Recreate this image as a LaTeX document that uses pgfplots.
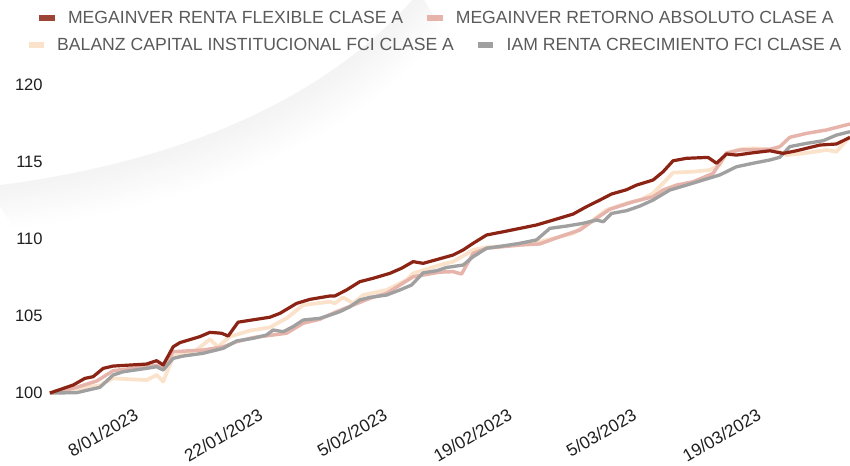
\documentclass[border=0pt]{standalone}
\usepackage{fontspec}
\setmainfont{Liberation Sans}
\usepackage{pgfplots}
\usepackage{pgfplotstable}
\pgfplotsset{compat=1.18}
\definecolor{cRed}{HTML}{8B2414}
\definecolor{cPink}{HTML}{E6B4AA}
\definecolor{cPeach}{HTML}{FBE2CB}
\definecolor{cGray}{HTML}{A0A0A0}
\definecolor{legtext}{HTML}{5A5A5A}

% x = days since 1 Jan 2023 (0 = 1/01/2023)
\pgfplotstableread{
d v
-3.11 100
-0.49 100.52
0.82 100.95
1.75 101.06
2.88 101.6
4.0 101.75
7.75 101.88
8.88 102.1
9.62 101.82
10.74 103.0
11.49 103.27
13.74 103.66
14.87 103.94
16.18 103.88
16.92 103.7
18.04 104.6
19.36 104.72
21.6 104.92
22.73 105.17
24.61 105.82
26.1 106.08
28.35 106.3
28.91 106.3
30.22 106.69
31.72 107.23
33.21 107.45
35.09 107.77
36.4 108.1
37.71 108.53
38.83 108.42
40.34 108.66
42.2 108.96
43.33 109.29
44.45 109.72
45.96 110.26
47.82 110.47
49.7 110.69
51.57 110.91
53.44 111.23
55.69 111.62
57.19 112.1
58.69 112.53
60.0 112.92
61.69 113.2
62.81 113.5
64.67 113.83
65.8 114.37
66.92 115.08
68.43 115.24
70.85 115.3
71.8 114.92
72.92 115.52
74.04 115.45
75.91 115.6
77.79 115.73
79.28 115.56
80.79 115.73
83.4 116.1
85.28 116.17
86.8 116.6
}\tblRed

\pgfplotstableread{
d v
-3.11 100
-0.49 100.3
2.17 100.78
4.0 101.45
7.75 101.71
8.91 101.8
9.62 101.6
10.74 102.68
14.11 102.79
16.36 103.0
17.87 103.33
19.73 103.6
21.98 103.77
23.48 103.88
25.35 104.53
27.22 104.79
29.1 105.28
30.97 105.71
32.84 106.15
34.72 106.47
37.71 107.55
38.83 107.66
40.71 107.85
42.2 107.88
43.15 107.73
44.45 109.07
45.96 109.4
49.7 109.61
51.94 109.68
54.19 110.15
56.43 110.58
58.31 111.34
59.81 111.93
62.43 112.42
64.67 112.75
65.8 113.18
67.3 113.5
69.17 113.72
71.42 114.26
72.92 115.58
74.42 115.78
77.79 115.82
78.92 116.0
80.03 116.6
81.91 116.86
84.16 117.08
86.8 117.47
}\tblPink

\pgfplotstableread{
d v
-3.11 100
2.51 100.5
4.0 100.95
7.75 100.84
8.91 101.17
9.62 100.74
10.74 102.36
13.37 102.79
14.87 103.49
15.76 103.0
17.11 103.66
19.36 104.05
21.6 104.26
23.48 104.85
25.35 105.71
28.35 105.93
28.91 105.82
29.84 106.21
30.97 105.82
32.09 106.36
34.72 106.69
36.97 107.34
37.71 107.77
40.71 108.31
42.2 108.53
44.45 109.29
45.96 109.46
49.7 109.61
51.94 109.82
53.44 110.04
55.69 110.36
57.93 111.23
59.43 111.88
61.69 112.32
63.19 112.53
64.67 112.97
65.8 113.62
66.92 114.31
69.17 114.37
71.04 114.48
72.17 114.81
72.92 115.58
74.42 115.82
75.91 115.89
77.79 115.82
78.92 115.67
79.66 115.45
81.53 115.56
84.16 115.78
85.28 115.67
86.8 116.66
}\tblPeach

\pgfplotstableread{
d v
-3.11 100
-0.11 100.02
2.51 100.37
4.0 101.17
5.12 101.38
7.75 101.6
8.88 101.71
9.62 101.49
10.74 102.25
11.87 102.4
14.11 102.58
16.36 102.9
17.87 103.38
19.73 103.55
21.24 103.77
21.98 104.09
23.1 103.98
24.22 104.31
25.35 104.74
27.22 104.85
28.35 105.06
29.47 105.28
30.6 105.6
31.72 106.04
32.84 106.21
34.72 106.36
36.21 106.69
37.53 107.01
38.83 107.8
40.34 107.94
41.46 108.15
43.33 108.31
44.45 108.85
45.96 109.4
47.82 109.55
49.7 109.72
51.57 109.94
53.07 110.69
54.94 110.84
56.81 111.02
58.31 111.23
59.06 111.12
60.0 111.66
61.69 111.84
63.19 112.14
64.67 112.53
66.55 113.18
68.43 113.5
70.29 113.83
72.17 114.16
74.04 114.69
75.91 114.92
77.79 115.13
78.92 115.31
80.03 116.0
81.91 116.21
83.78 116.38
85.28 116.75
86.8 116.97
}\tblGray

\begin{document}
\begin{tikzpicture}
\path[use as bounding box] (0pt,0pt) rectangle (637.5pt,-348.75pt);
% decorative background swoosh (soft shadow)
\foreach \i in {19,18,...,0} {
  \pgfmathsetmacro\c{4.5*(1-\i/20)}
  \draw[line width=2.4pt, black!\c, shift={(\i*0.9pt,-\i*1.5pt)}]
    (-8pt,-141pt) .. controls (135pt,-123.75pt) and (247.5pt,-75pt) .. (315pt,5pt);
}
\begin{axis}[
  at={(37.5pt,-294.75pt)}, anchor=south west,
  scale only axis, width=600pt, height=242.55pt,
  xmin=-3.1, xmax=86.8, ymin=100, ymax=121,
  clip=false,
  axis line style={draw=none},
  major tick length=0pt,
  xtick={7,21,35,49,63,77},
  xticklabels={8/01/2023,22/01/2023,5/02/2023,19/02/2023,5/03/2023,19/03/2023},
  ytick={100,105,110,115,120},
  /pgf/number format/assume math mode=true,
  ticklabel style={font=\fontsize{12.4}{14}\selectfont, text=black!88},
  xticklabel style={font=\fontsize{13}{14}\selectfont, xshift=0.4pt, yshift=-13.8pt, rotate=30, anchor=east},
  yticklabel style={xshift=-2pt},
]
\addplot[cPeach, line width=2.8pt, line join=round] table[x=d,y=v] {\tblPeach};
\addplot[cPink, line width=2.6pt, line join=round] table[x=d,y=v] {\tblPink};
\addplot[cGray, line width=2.5pt, line join=round] table[x=d,y=v] {\tblGray};
\addplot[cRed, line width=2.4pt, line join=round] table[x=d,y=v] {\tblRed};
\end{axis}

% legend row 1
\begin{axis}[
  at={(327.4pt,-13.5pt)}, anchor=center,
  scale only axis, width=10pt, height=5pt, hide axis,
  xmin=0,xmax=1,ymin=0,ymax=1,
  legend columns=2,
  legend style={at={(0.5,0.5)}, anchor=center, draw=none, fill=none,
    font=\fontsize{13.2}{15}\selectfont, text=legtext,
    /tikz/every even column/.append style={column sep=14pt}},
  legend image code/.code={\draw[#1, line width=4pt] (0pt,0pt) -- (11.5pt,0pt); \path[draw=none,fill=none] (0pt,0pt) -- (19.5pt,0pt);},
]
\addlegendimage{cRed!85!white}
\addlegendentry{MEGAINVER RENTA FLEXIBLE CLASE A}
\addlegendimage{cPink}
\addlegendentry{MEGAINVER RETORNO ABSOLUTO CLASE A}
\end{axis}

% legend row 2
\begin{axis}[
  at={(326.25pt,-33.75pt)}, anchor=center,
  scale only axis, width=10pt, height=5pt, hide axis,
  xmin=0,xmax=1,ymin=0,ymax=1,
  legend columns=2,
  legend style={at={(0.5,0.5)}, anchor=center, draw=none, fill=none,
    font=\fontsize{13.2}{15}\selectfont, text=legtext,
    /tikz/every even column/.append style={column sep=14pt}},
  legend image code/.code={\draw[#1, line width=4pt] (0pt,0pt) -- (11.5pt,0pt); \path[draw=none,fill=none] (0pt,0pt) -- (19.5pt,0pt);},
]
\addlegendimage{cPeach}
\addlegendentry{BALANZ CAPITAL INSTITUCIONAL FCI CLASE A}
\addlegendimage{cGray}
\addlegendentry{IAM RENTA CRECIMIENTO FCI CLASE A}
\end{axis}
\end{tikzpicture}
\end{document}
